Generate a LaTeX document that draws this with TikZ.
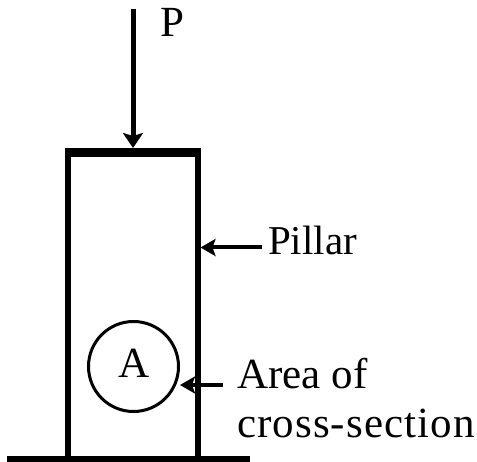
\documentclass[tikz,border=0pt]{standalone}
\usepackage{fontspec}
\setmainfont{Liberation Serif}
\usetikzlibrary{arrows.meta}
\begin{document}
\begin{tikzpicture}[x=1pt,y=-1pt,
  lbl/.style={anchor=base west,inner sep=0pt,font=\fontsize{43}{48}\selectfont},
  bigarrow/.style={line width=5pt,-{Stealth[width=20pt,length=15pt,inset=3pt]}},
  ptrarrow/.style={line width=4pt,-{Stealth[width=17pt,length=15pt,inset=3pt]}},
  wall/.style={line width=6pt},
  topbar/.style={line width=9pt},
  ground/.style={line width=5.5pt}]
\useasboundingbox (0,0) rectangle (477,462);
% pillar
\coordinate (tl) at (64.5,152.5);
\coordinate (tr) at (200.5,152.5);
\coordinate (tm) at (133,148);
\coordinate (lw) at (67.5,152);
\coordinate (rw) at (197.5,152);
\coordinate (lb) at (67.5,459);
\coordinate (rb) at (197.5,459);
\draw[topbar] (tl) -- (tr);
\draw[wall] (lw) -- (lb);
\draw[wall] (rw) -- (rb);
% ground
\coordinate (g1) at (7,459);
\coordinate (g2) at (250,459);
\draw[ground] (g1) -- (g2);
% load
\coordinate (ptail) at (133,9);
\draw[bigarrow] (ptail) -- (tm);
\node[lbl] (P) at (160,37) {P};
% pillar label
\coordinate (pwall) at (200.5,247.5);
\coordinate (ptr1) at (262,247.5);
\draw[ptrarrow] (ptr1) -- (pwall);
\node[lbl,font=\fontsize{41}{48}\selectfont] (pillar) at (268,255) {Pillar};
% cross section
\node[circle,draw,line width=3pt,minimum size=90pt,inner sep=0pt] (circ) at (133.5,366.5) {};
\node[anchor=base,inner sep=0pt,font=\fontsize{43}{48}\selectfont] (A) at (134,378) {A};
\coordinate (atail) at (223,385);
\draw[ptrarrow] (atail) -- (circ.east |- atail);
\node[lbl] (area1) at (237,389) {Area of};
\node[lbl,font=\fontsize{43}{48}\selectfont\addfontfeature{LetterSpace=2.5}] (area2) at (237,438) {cross-section};
\end{tikzpicture}
\end{document}
